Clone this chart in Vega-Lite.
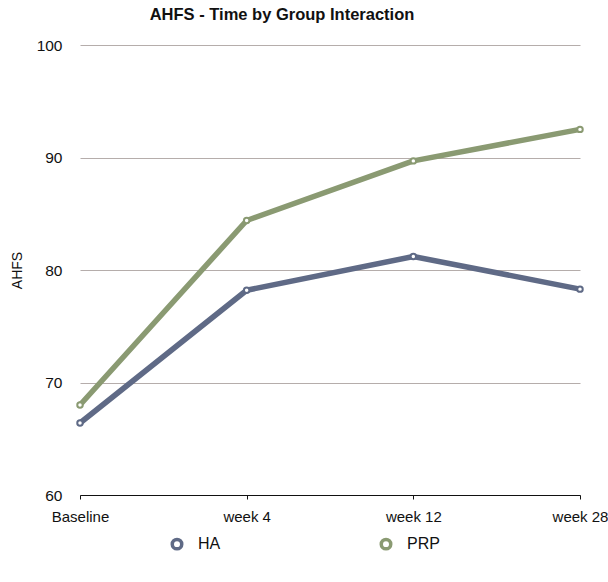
{
  "$schema": "https://vega.github.io/schema/vega-lite/v6.json",
  "width": 500,
  "height": 450,
  "autosize": {"type": "none"},
  "padding": {"left": 80, "top": 45, "right": 28, "bottom": 87},
  "background": "white",
  "config": {"view": {"stroke": null}},
  "title": {
    "text": "AHFS - Time by Group Interaction",
    "font": "Liberation Sans",
    "fontSize": 16.5,
    "fontWeight": "bold",
    "color": "#111111",
    "offset": 15,
    "dx": -48
  },
  "data": {
    "values": [
      {"time": "Baseline", "group": "HA", "AHFS": 66.4},
      {"time": "week 4", "group": "HA", "AHFS": 78.2},
      {"time": "week 12", "group": "HA", "AHFS": 81.2},
      {"time": "week 28", "group": "HA", "AHFS": 78.3},
      {"time": "Baseline", "group": "PRP", "AHFS": 68.0},
      {"time": "week 4", "group": "PRP", "AHFS": 84.4},
      {"time": "week 12", "group": "PRP", "AHFS": 89.7},
      {"time": "week 28", "group": "PRP", "AHFS": 92.5}
    ]
  },
  "encoding": {
    "x": {
      "field": "time",
      "type": "ordinal",
      "sort": ["Baseline", "week 4", "week 12", "week 28"],
      "scale": {"type": "point", "padding": 0},
      "axis": {
        "title": null,
        "labelAngle": 0,
        "labelFont": "Liberation Sans",
        "labelFontSize": 15,
        "labelColor": "#111111",
        "domainColor": "#111111",
        "tickColor": "#111111",
        "tickSize": 4,
        "labelPadding": 10,
        "grid": false
      }
    },
    "y": {
      "field": "AHFS",
      "type": "quantitative",
      "scale": {"domain": [60, 100], "nice": false, "zero": false},
      "axis": {
        "values": [60, 70, 80, 90, 100],
        "title": "AHFS",
        "titleFont": "Liberation Sans",
        "titleFontSize": 14,
        "titleFontWeight": "normal",
        "titleColor": "#111111",
        "titlePadding": 12,
        "labelFont": "Liberation Sans",
        "labelFontSize": 15.5,
        "labelColor": "#111111",
        "labelPadding": 18,
        "domain": false,
        "ticks": false,
        "grid": true,
        "gridColor": "#b5adab",
        "gridWidth": 1,
        "gridOpacity": 1
      }
    },
    "color": {
      "field": "group",
      "type": "nominal",
      "scale": {"domain": ["HA", "PRP"], "range": ["#5f6a86", "#8a9a72"]},
      "legend": {
        "title": null,
        "orient": "none",
        "direction": "horizontal",
        "legendX": 89,
        "legendY": 491,
        "symbolType": "circle",
        "symbolFillColor": "white",
        "symbolStrokeWidth": 3.5,
        "symbolSize": 90,
        "labelFont": "Liberation Sans",
        "labelFontSize": 16,
        "labelColor": "#111111",
        "labelOffset": 13,
        "gridAlign": "all",
        "columnPadding": 143
      }
    }
  },
  "layer": [
    {
      "mark": {"type": "line", "strokeWidth": 5.5, "strokeCap": "round", "strokeJoin": "round"}
    },
    {
      "mark": {"type": "point", "shape": "circle", "filled": false, "fill": "white", "size": 30, "strokeWidth": 2, "opacity": 1}
    }
  ]
}
